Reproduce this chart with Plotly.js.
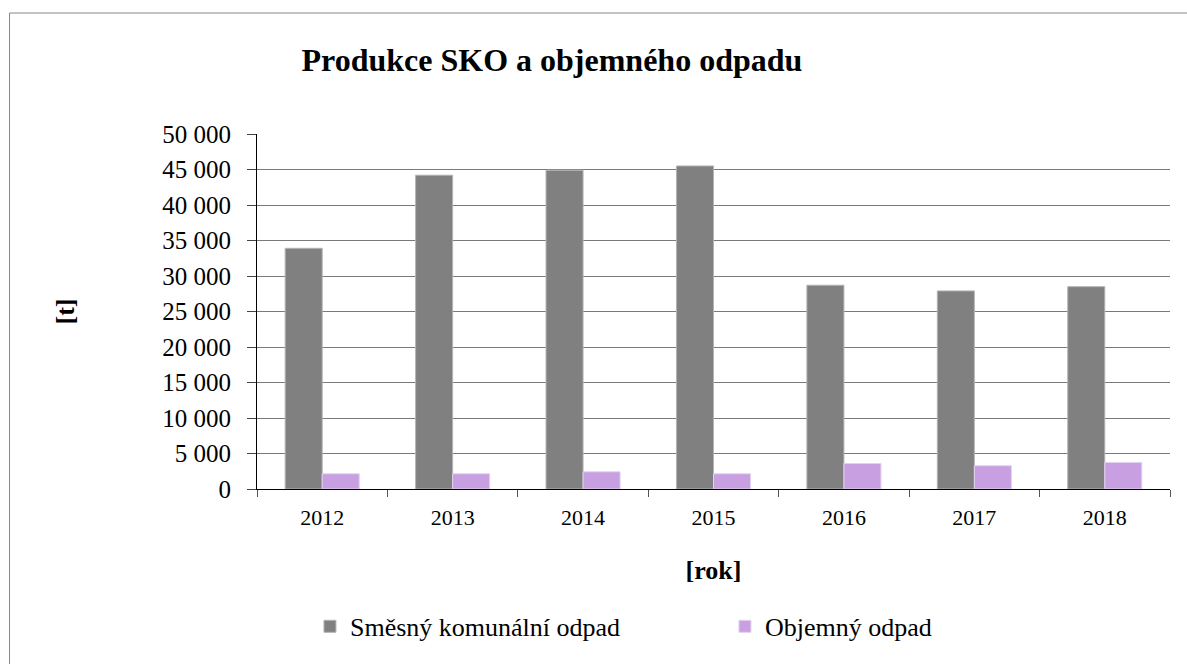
<!DOCTYPE html>
<html>
<head>
<meta charset="utf-8">
<script src="https://cdn.plot.ly/plotly-3.0.1.min.js"></script>
<style>
html,body{margin:0;padding:0;background:#fff;}
#chart{width:1187px;height:664px;}
</style>
</head>
<body>
<div id="chart"></div>
<script>
const years = ["2012","2013","2014","2015","2016","2017","2018"];
const sko = [33900, 44200, 44900, 45500, 28700, 27900, 28500];
const objemny = [2150, 2150, 2430, 2150, 3600, 3280, 3740];
const seriesNames = ["Směsný komunální odpad", "Objemný odpad"];
const titleText = "Produkce SKO a objemného odpadu";
const xTitle = "[rok]";
const yTitle = "[t]";

const FONT = "Times New Roman";

const traces = [
  {type:"bar", name:seriesNames[0], x:years, y:sko,
   marker:{color:"#808080", line:{color:"#b4b4b4", width:1}}},
  {type:"bar", name:seriesNames[1], x:years, y:objemny,
   marker:{color:"#c8a0e2", line:{color:"#e2d2f0", width:1}}}
];

const layout = {
  width:1187, height:664,
  margin:{l:257, r:17, t:134, b:175, pad:0},
  paper_bgcolor:"#fff", plot_bgcolor:"#fff",
  separators:", ",
  font:{family:FONT, color:"#000", size:22},
  barmode:"group", bargap:0.432, bargroupgap:0,
  title:{text:"<b>"+titleText+"</b>", font:{family:FONT, size:32, color:"#000"},
         xref:"paper", x:0.323, xanchor:"center", yref:"container", y:0.9096, yanchor:"middle"},
  xaxis:{type:"category", tickson:"boundaries", ticks:"outside", ticklen:7, tickcolor:"#555",
         showline:true, linecolor:"#000", linewidth:1, showgrid:false,
         tickfont:{family:FONT, size:22, color:"#000"}, ticklabelstandoff:9,
         title:{text:"<b>"+xTitle+"</b>", font:{family:FONT, size:26, color:"#000"}, standoff:31},
         automargin:false, fixedrange:true},
  yaxis:{range:[0,50000], dtick:5000, tickformat:",.0f", ticks:"outside", ticklen:9, tickcolor:"#444",
         showline:true, linecolor:"#000", linewidth:1, showgrid:true, gridcolor:"#7a7a7a", gridwidth:1,
         zeroline:false, tickfont:{family:FONT, size:25, color:"#000"}, ticklabelstandoff:11,
         title:{text:"<b>"+yTitle+"</b>", font:{family:FONT, size:26, color:"#000"}, standoff:80},
         automargin:false, fixedrange:true},
  showlegend:true,
  legend:{orientation:"h", x:0.058, xanchor:"left", y:-0.387, yanchor:"middle",
          font:{family:FONT, size:26, color:"#000"}, entrywidth:370, entrywidthmode:"pixels",
          bgcolor:"rgba(0,0,0,0)", traceorder:"normal", itemclick:false, itemdoubleclick:false},
  shapes:[{type:"rect", xref:"paper", yref:"paper",
           x0:(9.5-257)/913, x1:1.2, y0:-1.0, y1:(489.3-12.5)/355.6,
           line:{color:"#888", width:1}, fillcolor:"rgba(0,0,0,0)", layer:"below"}]
};

Plotly.newPlot("chart", traces, layout, {displayModeBar:false, staticPlot:true});
</script>
</body>
</html>
